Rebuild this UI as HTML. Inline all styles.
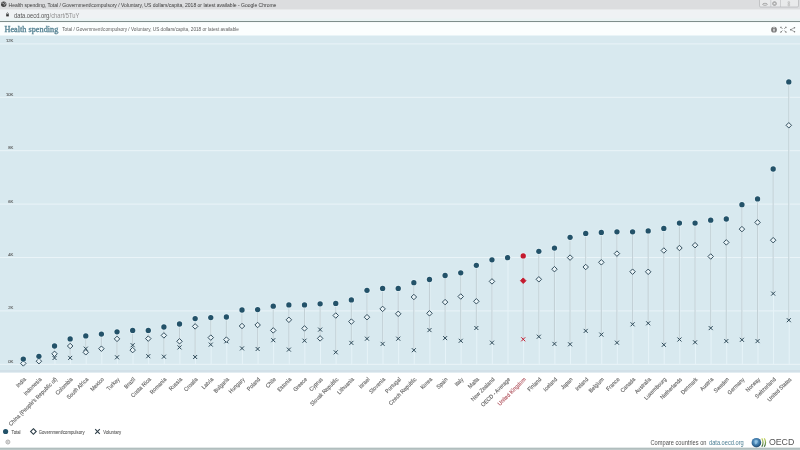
<!DOCTYPE html>
<html><head><meta charset="utf-8"><style>
html,body{margin:0;padding:0;background:#fff;width:800px;height:450px;overflow:hidden;font-family:"Liberation Sans",sans-serif;}
svg{display:block;will-change:transform}
</style></head><body>
<svg width="800" height="450" viewBox="0 0 800 450">
<rect x="0" y="0" width="800" height="9" fill="#dcdddf"/>
<rect x="0" y="9" width="800" height="0.6" fill="#c9cbcd"/>
<rect x="0" y="9.5" width="800" height="11.6" fill="#eff2f4"/><rect x="0" y="18.5" width="800" height="2.5" fill="#eaf3f3"/>
<rect x="0" y="21" width="800" height="1.2" fill="#7f8e8c"/>
<rect x="0" y="22.2" width="800" height="13.6" fill="#fbfefe"/>
<circle cx="3.7" cy="4.3" r="2.7" fill="#444"/>
<path d="M1.6 3.4 Q2.8 2.6 3.6 3.5 Q4.6 4.2 4.2 5.6 M4.8 2.2 Q5.6 3.4 5.4 4.4" fill="none" stroke="#dcdddf" stroke-width="0.7"/>
<text x="8.6" y="6.6" font-family="Liberation Sans" font-size="5.6" textLength="267.8" lengthAdjust="spacingAndGlyphs" fill="#3a3a3a">Health spending, Total / Government/compulsory / Voluntary, US dollars/capita, 2018 or latest available - Google Chrome</text>
<rect x="759.5" y="-1" width="39" height="8" rx="1.2" fill="#e9eaeb" stroke="#a0a2a4" stroke-width="0.5"/>
<line x1="770.8" y1="0" x2="770.8" y2="7" stroke="#b0b2b4" stroke-width="0.5"/>
<line x1="780.5" y1="0" x2="780.5" y2="7" stroke="#b0b2b4" stroke-width="0.5"/>
<ellipse cx="765" cy="4.3" rx="2.3" ry="1" fill="none" stroke="#777" stroke-width="0.55"/>
<circle cx="774.5" cy="3.6" r="1.9" fill="none" stroke="#777" stroke-width="0.6"/><rect x="773.9" y="2.8" width="1.2" height="1.6" fill="none" stroke="#777" stroke-width="0.4"/>
<path d="M788 1.8 h1.6 v1.6 h-1.6 z M788 4.2 h1.6 v1.6 h-1.6 z" fill="none" stroke="#999" stroke-width="0.4"/>
<rect x="6.2" y="14.2" width="2.6" height="2.2" fill="#333"/>
<path d="M6.7 14.3 V13.3 Q7.5 12.2 8.3 13.3 V14.3" fill="none" stroke="#333" stroke-width="0.6"/>
<text x="14" y="17.6" font-family="Liberation Sans" font-size="6.3" textLength="35.3" lengthAdjust="spacingAndGlyphs" fill="#555">data.oecd.org</text><text x="49.6" y="17.6" font-family="Liberation Sans" font-size="6.3" textLength="29.8" lengthAdjust="spacingAndGlyphs" fill="#8f8f8f">/chart/5TuY</text>
<text x="4.5" y="31.8" font-family="Liberation Serif" font-size="8.2" textLength="53.8" lengthAdjust="spacingAndGlyphs" fill="#5a8696" stroke="#5a8696" stroke-width="0.35">Health spending</text>
<text x="62.2" y="31.2" font-family="Liberation Sans" font-size="5.1" textLength="176.8" lengthAdjust="spacingAndGlyphs" fill="#606060">Total / Government/compulsory / Voluntary, US dollars/capita, 2018 or latest available</text>
<circle cx="774" cy="29.7" r="2.9" fill="#7d7d7d"/>
<rect x="773.45" y="28.9" width="1.1" height="2.5" fill="#fff"/>
<circle cx="774" cy="27.7" r="0.6" fill="#fff"/>
<path d="M780.6 27 L782.4 28.8 M786.2 27 L784.4 28.8 M780.6 32.4 L782.4 30.6 M786.2 32.4 L784.4 30.6" stroke="#6a6a6a" stroke-width="0.8"/>
<path d="M780.4 26.8 h1.4 l-1.4 1.4 z M786.4 26.8 h-1.4 l1.4 1.4 z M780.4 32.6 h1.4 l-1.4 -1.4 z M786.4 32.6 h-1.4 l1.4 -1.4 z" fill="#6a6a6a"/>
<path d="M794.5 27.7 L790.7 29.7 L794.5 31.7" fill="none" stroke="#777" stroke-width="0.6"/><circle cx="794.5" cy="27.7" r="0.75" fill="#777"/><circle cx="790.7" cy="29.7" r="0.75" fill="#777"/><circle cx="794.5" cy="31.7" r="0.75" fill="#777"/>
<rect x="0" y="35.5" width="800" height="336.9" fill="#d8e9ef"/>
<rect x="0" y="370" width="800" height="2.4" fill="#d2e0e8"/>
<rect x="0" y="363.80" width="800" height="1.0" fill="#eaf4f8"/>
<text x="13.4" y="362.80" text-anchor="end" font-family="Liberation Sans" font-size="4.2" fill="#505050" stroke="#505050" stroke-width="0.08">0K</text>
<rect x="0" y="310.40" width="800" height="1.0" fill="#eaf4f8"/>
<text x="13.4" y="309.40" text-anchor="end" font-family="Liberation Sans" font-size="4.2" fill="#505050" stroke="#505050" stroke-width="0.08">2K</text>
<rect x="0" y="257.00" width="800" height="1.0" fill="#eaf4f8"/>
<text x="13.4" y="256.00" text-anchor="end" font-family="Liberation Sans" font-size="4.2" fill="#505050" stroke="#505050" stroke-width="0.08">4K</text>
<rect x="0" y="203.60" width="800" height="1.0" fill="#eaf4f8"/>
<text x="13.4" y="202.60" text-anchor="end" font-family="Liberation Sans" font-size="4.2" fill="#505050" stroke="#505050" stroke-width="0.08">6K</text>
<rect x="0" y="150.20" width="800" height="1.0" fill="#eaf4f8"/>
<text x="13.4" y="149.20" text-anchor="end" font-family="Liberation Sans" font-size="4.2" fill="#505050" stroke="#505050" stroke-width="0.08">8K</text>
<rect x="0" y="96.80" width="800" height="1.0" fill="#eaf4f8"/>
<text x="13.4" y="95.80" text-anchor="end" font-family="Liberation Sans" font-size="4.2" fill="#505050" stroke="#505050" stroke-width="0.08">10K</text>
<rect x="0" y="43.40" width="800" height="1.0" fill="#eaf4f8"/>
<text x="13.4" y="42.40" text-anchor="end" font-family="Liberation Sans" font-size="4.2" fill="#505050" stroke="#505050" stroke-width="0.08">12K</text>
<line x1="23.70" y1="359.10" x2="23.70" y2="364.30" stroke="#e6f3f8" stroke-width="1"/>
<line x1="23.30" y1="359.10" x2="23.30" y2="363.40" stroke="#c0cdd3" stroke-width="0.95"/>
<line x1="39.32" y1="356.30" x2="39.32" y2="364.30" stroke="#e6f3f8" stroke-width="1"/>
<line x1="38.92" y1="356.30" x2="38.92" y2="361.20" stroke="#c0cdd3" stroke-width="0.95"/>
<line x1="54.94" y1="346.00" x2="54.94" y2="364.30" stroke="#e6f3f8" stroke-width="1"/>
<line x1="54.54" y1="346.00" x2="54.54" y2="358.00" stroke="#c0cdd3" stroke-width="0.95"/>
<line x1="70.57" y1="338.90" x2="70.57" y2="364.30" stroke="#e6f3f8" stroke-width="1"/>
<line x1="70.17" y1="338.90" x2="70.17" y2="357.90" stroke="#c0cdd3" stroke-width="0.95"/>
<line x1="86.19" y1="335.90" x2="86.19" y2="364.30" stroke="#e6f3f8" stroke-width="1"/>
<line x1="85.79" y1="335.90" x2="85.79" y2="352.30" stroke="#c0cdd3" stroke-width="0.95"/>
<line x1="101.81" y1="334.10" x2="101.81" y2="364.30" stroke="#e6f3f8" stroke-width="1"/>
<line x1="101.41" y1="334.10" x2="101.41" y2="348.70" stroke="#c0cdd3" stroke-width="0.95"/>
<line x1="117.43" y1="331.80" x2="117.43" y2="364.30" stroke="#e6f3f8" stroke-width="1"/>
<line x1="117.03" y1="331.80" x2="117.03" y2="357.30" stroke="#c0cdd3" stroke-width="0.95"/>
<line x1="133.06" y1="330.40" x2="133.06" y2="364.30" stroke="#e6f3f8" stroke-width="1"/>
<line x1="132.66" y1="330.40" x2="132.66" y2="350.10" stroke="#c0cdd3" stroke-width="0.95"/>
<line x1="148.68" y1="330.40" x2="148.68" y2="364.30" stroke="#e6f3f8" stroke-width="1"/>
<line x1="148.28" y1="330.40" x2="148.28" y2="356.20" stroke="#c0cdd3" stroke-width="0.95"/>
<line x1="164.30" y1="327.00" x2="164.30" y2="364.30" stroke="#e6f3f8" stroke-width="1"/>
<line x1="163.90" y1="327.00" x2="163.90" y2="356.70" stroke="#c0cdd3" stroke-width="0.95"/>
<line x1="179.92" y1="324.00" x2="179.92" y2="364.30" stroke="#e6f3f8" stroke-width="1"/>
<line x1="179.52" y1="324.00" x2="179.52" y2="347.40" stroke="#c0cdd3" stroke-width="0.95"/>
<line x1="195.55" y1="318.60" x2="195.55" y2="364.30" stroke="#e6f3f8" stroke-width="1"/>
<line x1="195.15" y1="318.60" x2="195.15" y2="357.00" stroke="#c0cdd3" stroke-width="0.95"/>
<line x1="211.17" y1="317.60" x2="211.17" y2="364.30" stroke="#e6f3f8" stroke-width="1"/>
<line x1="210.77" y1="317.60" x2="210.77" y2="344.60" stroke="#c0cdd3" stroke-width="0.95"/>
<line x1="226.79" y1="317.00" x2="226.79" y2="364.30" stroke="#e6f3f8" stroke-width="1"/>
<line x1="226.39" y1="317.00" x2="226.39" y2="341.30" stroke="#c0cdd3" stroke-width="0.95"/>
<line x1="242.41" y1="310.00" x2="242.41" y2="364.30" stroke="#e6f3f8" stroke-width="1"/>
<line x1="242.01" y1="310.00" x2="242.01" y2="348.40" stroke="#c0cdd3" stroke-width="0.95"/>
<line x1="258.04" y1="309.60" x2="258.04" y2="364.30" stroke="#e6f3f8" stroke-width="1"/>
<line x1="257.64" y1="309.60" x2="257.64" y2="349.00" stroke="#c0cdd3" stroke-width="0.95"/>
<line x1="273.66" y1="306.20" x2="273.66" y2="364.30" stroke="#e6f3f8" stroke-width="1"/>
<line x1="273.26" y1="306.20" x2="273.26" y2="340.20" stroke="#c0cdd3" stroke-width="0.95"/>
<line x1="289.28" y1="304.90" x2="289.28" y2="364.30" stroke="#e6f3f8" stroke-width="1"/>
<line x1="288.88" y1="304.90" x2="288.88" y2="349.60" stroke="#c0cdd3" stroke-width="0.95"/>
<line x1="304.90" y1="304.90" x2="304.90" y2="364.30" stroke="#e6f3f8" stroke-width="1"/>
<line x1="304.50" y1="304.90" x2="304.50" y2="340.70" stroke="#c0cdd3" stroke-width="0.95"/>
<line x1="320.53" y1="303.80" x2="320.53" y2="364.30" stroke="#e6f3f8" stroke-width="1"/>
<line x1="320.13" y1="303.80" x2="320.13" y2="338.40" stroke="#c0cdd3" stroke-width="0.95"/>
<line x1="336.15" y1="303.40" x2="336.15" y2="364.30" stroke="#e6f3f8" stroke-width="1"/>
<line x1="335.75" y1="303.40" x2="335.75" y2="352.30" stroke="#c0cdd3" stroke-width="0.95"/>
<line x1="351.77" y1="299.90" x2="351.77" y2="364.30" stroke="#e6f3f8" stroke-width="1"/>
<line x1="351.37" y1="299.90" x2="351.37" y2="342.90" stroke="#c0cdd3" stroke-width="0.95"/>
<line x1="367.39" y1="290.30" x2="367.39" y2="364.30" stroke="#e6f3f8" stroke-width="1"/>
<line x1="366.99" y1="290.30" x2="366.99" y2="338.70" stroke="#c0cdd3" stroke-width="0.95"/>
<line x1="383.02" y1="288.40" x2="383.02" y2="364.30" stroke="#e6f3f8" stroke-width="1"/>
<line x1="382.62" y1="288.40" x2="382.62" y2="343.90" stroke="#c0cdd3" stroke-width="0.95"/>
<line x1="398.64" y1="288.40" x2="398.64" y2="364.30" stroke="#e6f3f8" stroke-width="1"/>
<line x1="398.24" y1="288.40" x2="398.24" y2="338.70" stroke="#c0cdd3" stroke-width="0.95"/>
<line x1="414.26" y1="282.70" x2="414.26" y2="364.30" stroke="#e6f3f8" stroke-width="1"/>
<line x1="413.86" y1="282.70" x2="413.86" y2="350.20" stroke="#c0cdd3" stroke-width="0.95"/>
<line x1="429.88" y1="279.50" x2="429.88" y2="364.30" stroke="#e6f3f8" stroke-width="1"/>
<line x1="429.48" y1="279.50" x2="429.48" y2="330.10" stroke="#c0cdd3" stroke-width="0.95"/>
<line x1="445.51" y1="275.50" x2="445.51" y2="364.30" stroke="#e6f3f8" stroke-width="1"/>
<line x1="445.11" y1="275.50" x2="445.11" y2="338.10" stroke="#c0cdd3" stroke-width="0.95"/>
<line x1="461.13" y1="272.80" x2="461.13" y2="364.30" stroke="#e6f3f8" stroke-width="1"/>
<line x1="460.73" y1="272.80" x2="460.73" y2="340.80" stroke="#c0cdd3" stroke-width="0.95"/>
<line x1="476.75" y1="265.30" x2="476.75" y2="364.30" stroke="#e6f3f8" stroke-width="1"/>
<line x1="476.35" y1="265.30" x2="476.35" y2="328.00" stroke="#c0cdd3" stroke-width="0.95"/>
<line x1="492.37" y1="259.80" x2="492.37" y2="364.30" stroke="#e6f3f8" stroke-width="1"/>
<line x1="491.97" y1="259.80" x2="491.97" y2="342.70" stroke="#c0cdd3" stroke-width="0.95"/>
<line x1="508.00" y1="257.70" x2="508.00" y2="364.30" stroke="#e6f3f8" stroke-width="1"/>
<line x1="523.62" y1="255.90" x2="523.62" y2="364.30" stroke="#e6f3f8" stroke-width="1"/>
<line x1="523.22" y1="255.90" x2="523.22" y2="339.30" stroke="#c0cdd3" stroke-width="0.95"/>
<line x1="539.24" y1="251.30" x2="539.24" y2="364.30" stroke="#e6f3f8" stroke-width="1"/>
<line x1="538.84" y1="251.30" x2="538.84" y2="336.70" stroke="#c0cdd3" stroke-width="0.95"/>
<line x1="554.86" y1="248.10" x2="554.86" y2="364.30" stroke="#e6f3f8" stroke-width="1"/>
<line x1="554.46" y1="248.10" x2="554.46" y2="343.90" stroke="#c0cdd3" stroke-width="0.95"/>
<line x1="570.49" y1="237.30" x2="570.49" y2="364.30" stroke="#e6f3f8" stroke-width="1"/>
<line x1="570.09" y1="237.30" x2="570.09" y2="344.30" stroke="#c0cdd3" stroke-width="0.95"/>
<line x1="586.11" y1="233.40" x2="586.11" y2="364.30" stroke="#e6f3f8" stroke-width="1"/>
<line x1="585.71" y1="233.40" x2="585.71" y2="330.90" stroke="#c0cdd3" stroke-width="0.95"/>
<line x1="601.73" y1="232.40" x2="601.73" y2="364.30" stroke="#e6f3f8" stroke-width="1"/>
<line x1="601.33" y1="232.40" x2="601.33" y2="334.60" stroke="#c0cdd3" stroke-width="0.95"/>
<line x1="617.35" y1="231.80" x2="617.35" y2="364.30" stroke="#e6f3f8" stroke-width="1"/>
<line x1="616.95" y1="231.80" x2="616.95" y2="342.70" stroke="#c0cdd3" stroke-width="0.95"/>
<line x1="632.98" y1="231.80" x2="632.98" y2="364.30" stroke="#e6f3f8" stroke-width="1"/>
<line x1="632.58" y1="231.80" x2="632.58" y2="324.30" stroke="#c0cdd3" stroke-width="0.95"/>
<line x1="648.60" y1="230.90" x2="648.60" y2="364.30" stroke="#e6f3f8" stroke-width="1"/>
<line x1="648.20" y1="230.90" x2="648.20" y2="323.30" stroke="#c0cdd3" stroke-width="0.95"/>
<line x1="664.22" y1="228.40" x2="664.22" y2="364.30" stroke="#e6f3f8" stroke-width="1"/>
<line x1="663.82" y1="228.40" x2="663.82" y2="344.80" stroke="#c0cdd3" stroke-width="0.95"/>
<line x1="679.84" y1="223.10" x2="679.84" y2="364.30" stroke="#e6f3f8" stroke-width="1"/>
<line x1="679.44" y1="223.10" x2="679.44" y2="339.50" stroke="#c0cdd3" stroke-width="0.95"/>
<line x1="695.47" y1="223.10" x2="695.47" y2="364.30" stroke="#e6f3f8" stroke-width="1"/>
<line x1="695.07" y1="223.10" x2="695.07" y2="342.30" stroke="#c0cdd3" stroke-width="0.95"/>
<line x1="711.09" y1="220.20" x2="711.09" y2="364.30" stroke="#e6f3f8" stroke-width="1"/>
<line x1="710.69" y1="220.20" x2="710.69" y2="328.10" stroke="#c0cdd3" stroke-width="0.95"/>
<line x1="726.71" y1="219.00" x2="726.71" y2="364.30" stroke="#e6f3f8" stroke-width="1"/>
<line x1="726.31" y1="219.00" x2="726.31" y2="341.10" stroke="#c0cdd3" stroke-width="0.95"/>
<line x1="742.33" y1="204.70" x2="742.33" y2="364.30" stroke="#e6f3f8" stroke-width="1"/>
<line x1="741.93" y1="204.70" x2="741.93" y2="339.80" stroke="#c0cdd3" stroke-width="0.95"/>
<line x1="757.96" y1="198.90" x2="757.96" y2="364.30" stroke="#e6f3f8" stroke-width="1"/>
<line x1="757.56" y1="198.90" x2="757.56" y2="341.10" stroke="#c0cdd3" stroke-width="0.95"/>
<line x1="773.58" y1="169.00" x2="773.58" y2="364.30" stroke="#e6f3f8" stroke-width="1"/>
<line x1="773.18" y1="169.00" x2="773.18" y2="293.60" stroke="#c0cdd3" stroke-width="0.95"/>
<line x1="789.20" y1="81.90" x2="789.20" y2="364.30" stroke="#e6f3f8" stroke-width="1"/>
<line x1="788.80" y1="81.90" x2="788.80" y2="320.20" stroke="#c0cdd3" stroke-width="0.95"/>
<path d="M52.54 356.00 L56.54 360.00 M56.54 356.00 L52.54 360.00" stroke="#2c4857" stroke-width="1.0"/>
<path d="M68.17 355.90 L72.17 359.90 M72.17 355.90 L68.17 359.90" stroke="#2c4857" stroke-width="1.0"/>
<path d="M83.79 346.70 L87.79 350.70 M87.79 346.70 L83.79 350.70" stroke="#2c4857" stroke-width="1.0"/>
<path d="M115.03 355.30 L119.03 359.30 M119.03 355.30 L115.03 359.30" stroke="#2c4857" stroke-width="1.0"/>
<path d="M130.66 343.20 L134.66 347.20 M134.66 343.20 L130.66 347.20" stroke="#2c4857" stroke-width="1.0"/>
<path d="M146.28 354.20 L150.28 358.20 M150.28 354.20 L146.28 358.20" stroke="#2c4857" stroke-width="1.0"/>
<path d="M161.90 354.70 L165.90 358.70 M165.90 354.70 L161.90 358.70" stroke="#2c4857" stroke-width="1.0"/>
<path d="M177.52 345.40 L181.52 349.40 M181.52 345.40 L177.52 349.40" stroke="#2c4857" stroke-width="1.0"/>
<path d="M193.15 355.00 L197.15 359.00 M197.15 355.00 L193.15 359.00" stroke="#2c4857" stroke-width="1.0"/>
<path d="M208.77 342.60 L212.77 346.60 M212.77 342.60 L208.77 346.60" stroke="#2c4857" stroke-width="1.0"/>
<path d="M224.39 339.30 L228.39 343.30 M228.39 339.30 L224.39 343.30" stroke="#2c4857" stroke-width="1.0"/>
<path d="M240.01 346.40 L244.01 350.40 M244.01 346.40 L240.01 350.40" stroke="#2c4857" stroke-width="1.0"/>
<path d="M255.64 347.00 L259.64 351.00 M259.64 347.00 L255.64 351.00" stroke="#2c4857" stroke-width="1.0"/>
<path d="M271.26 338.20 L275.26 342.20 M275.26 338.20 L271.26 342.20" stroke="#2c4857" stroke-width="1.0"/>
<path d="M286.88 347.60 L290.88 351.60 M290.88 347.60 L286.88 351.60" stroke="#2c4857" stroke-width="1.0"/>
<path d="M302.50 338.70 L306.50 342.70 M306.50 338.70 L302.50 342.70" stroke="#2c4857" stroke-width="1.0"/>
<path d="M318.13 327.60 L322.13 331.60 M322.13 327.60 L318.13 331.60" stroke="#2c4857" stroke-width="1.0"/>
<path d="M333.75 350.30 L337.75 354.30 M337.75 350.30 L333.75 354.30" stroke="#2c4857" stroke-width="1.0"/>
<path d="M349.37 340.90 L353.37 344.90 M353.37 340.90 L349.37 344.90" stroke="#2c4857" stroke-width="1.0"/>
<path d="M364.99 336.70 L368.99 340.70 M368.99 336.70 L364.99 340.70" stroke="#2c4857" stroke-width="1.0"/>
<path d="M380.62 341.90 L384.62 345.90 M384.62 341.90 L380.62 345.90" stroke="#2c4857" stroke-width="1.0"/>
<path d="M396.24 336.70 L400.24 340.70 M400.24 336.70 L396.24 340.70" stroke="#2c4857" stroke-width="1.0"/>
<path d="M411.86 348.20 L415.86 352.20 M415.86 348.20 L411.86 352.20" stroke="#2c4857" stroke-width="1.0"/>
<path d="M427.48 328.10 L431.48 332.10 M431.48 328.10 L427.48 332.10" stroke="#2c4857" stroke-width="1.0"/>
<path d="M443.11 336.10 L447.11 340.10 M447.11 336.10 L443.11 340.10" stroke="#2c4857" stroke-width="1.0"/>
<path d="M458.73 338.80 L462.73 342.80 M462.73 338.80 L458.73 342.80" stroke="#2c4857" stroke-width="1.0"/>
<path d="M474.35 326.00 L478.35 330.00 M478.35 326.00 L474.35 330.00" stroke="#2c4857" stroke-width="1.0"/>
<path d="M489.97 340.70 L493.97 344.70 M493.97 340.70 L489.97 344.70" stroke="#2c4857" stroke-width="1.0"/>
<path d="M521.22 337.30 L525.22 341.30 M525.22 337.30 L521.22 341.30" stroke="#c41a2e" stroke-width="1.0"/>
<path d="M536.84 334.70 L540.84 338.70 M540.84 334.70 L536.84 338.70" stroke="#2c4857" stroke-width="1.0"/>
<path d="M552.46 341.90 L556.46 345.90 M556.46 341.90 L552.46 345.90" stroke="#2c4857" stroke-width="1.0"/>
<path d="M568.09 342.30 L572.09 346.30 M572.09 342.30 L568.09 346.30" stroke="#2c4857" stroke-width="1.0"/>
<path d="M583.71 328.90 L587.71 332.90 M587.71 328.90 L583.71 332.90" stroke="#2c4857" stroke-width="1.0"/>
<path d="M599.33 332.60 L603.33 336.60 M603.33 332.60 L599.33 336.60" stroke="#2c4857" stroke-width="1.0"/>
<path d="M614.95 340.70 L618.95 344.70 M618.95 340.70 L614.95 344.70" stroke="#2c4857" stroke-width="1.0"/>
<path d="M630.58 322.30 L634.58 326.30 M634.58 322.30 L630.58 326.30" stroke="#2c4857" stroke-width="1.0"/>
<path d="M646.20 321.30 L650.20 325.30 M650.20 321.30 L646.20 325.30" stroke="#2c4857" stroke-width="1.0"/>
<path d="M661.82 342.80 L665.82 346.80 M665.82 342.80 L661.82 346.80" stroke="#2c4857" stroke-width="1.0"/>
<path d="M677.44 337.50 L681.44 341.50 M681.44 337.50 L677.44 341.50" stroke="#2c4857" stroke-width="1.0"/>
<path d="M693.07 340.30 L697.07 344.30 M697.07 340.30 L693.07 344.30" stroke="#2c4857" stroke-width="1.0"/>
<path d="M708.69 326.10 L712.69 330.10 M712.69 326.10 L708.69 330.10" stroke="#2c4857" stroke-width="1.0"/>
<path d="M724.31 339.10 L728.31 343.10 M728.31 339.10 L724.31 343.10" stroke="#2c4857" stroke-width="1.0"/>
<path d="M739.93 337.80 L743.93 341.80 M743.93 337.80 L739.93 341.80" stroke="#2c4857" stroke-width="1.0"/>
<path d="M755.56 339.10 L759.56 343.10 M759.56 339.10 L755.56 343.10" stroke="#2c4857" stroke-width="1.0"/>
<path d="M771.18 291.60 L775.18 295.60 M775.18 291.60 L771.18 295.60" stroke="#2c4857" stroke-width="1.0"/>
<path d="M786.80 318.20 L790.80 322.20 M790.80 318.20 L786.80 322.20" stroke="#2c4857" stroke-width="1.0"/>
<path d="M23.30 360.65 L26.05 363.40 L23.30 366.15 L20.55 363.40 Z" fill="#e8f3f7" stroke="#2c4857" stroke-width="0.95"/>
<path d="M38.92 358.45 L41.67 361.20 L38.92 363.95 L36.17 361.20 Z" fill="#e8f3f7" stroke="#2c4857" stroke-width="0.95"/>
<path d="M54.54 351.05 L57.29 353.80 L54.54 356.55 L51.79 353.80 Z" fill="#e8f3f7" stroke="#2c4857" stroke-width="0.95"/>
<path d="M70.17 343.25 L72.92 346.00 L70.17 348.75 L67.42 346.00 Z" fill="#e8f3f7" stroke="#2c4857" stroke-width="0.95"/>
<path d="M85.79 349.55 L88.54 352.30 L85.79 355.05 L83.04 352.30 Z" fill="#e8f3f7" stroke="#2c4857" stroke-width="0.95"/>
<path d="M101.41 345.95 L104.16 348.70 L101.41 351.45 L98.66 348.70 Z" fill="#e8f3f7" stroke="#2c4857" stroke-width="0.95"/>
<path d="M117.03 336.15 L119.78 338.90 L117.03 341.65 L114.28 338.90 Z" fill="#e8f3f7" stroke="#2c4857" stroke-width="0.95"/>
<path d="M132.66 347.35 L135.41 350.10 L132.66 352.85 L129.91 350.10 Z" fill="#e8f3f7" stroke="#2c4857" stroke-width="0.95"/>
<path d="M148.28 335.85 L151.03 338.60 L148.28 341.35 L145.53 338.60 Z" fill="#e8f3f7" stroke="#2c4857" stroke-width="0.95"/>
<path d="M163.90 332.65 L166.65 335.40 L163.90 338.15 L161.15 335.40 Z" fill="#e8f3f7" stroke="#2c4857" stroke-width="0.95"/>
<path d="M179.52 338.55 L182.27 341.30 L179.52 344.05 L176.77 341.30 Z" fill="#e8f3f7" stroke="#2c4857" stroke-width="0.95"/>
<path d="M195.15 323.65 L197.90 326.40 L195.15 329.15 L192.40 326.40 Z" fill="#e8f3f7" stroke="#2c4857" stroke-width="0.95"/>
<path d="M210.77 334.85 L213.52 337.60 L210.77 340.35 L208.02 337.60 Z" fill="#e8f3f7" stroke="#2c4857" stroke-width="0.95"/>
<path d="M226.39 336.85 L229.14 339.60 L226.39 342.35 L223.64 339.60 Z" fill="#e8f3f7" stroke="#2c4857" stroke-width="0.95"/>
<path d="M242.01 323.25 L244.76 326.00 L242.01 328.75 L239.26 326.00 Z" fill="#e8f3f7" stroke="#2c4857" stroke-width="0.95"/>
<path d="M257.64 322.25 L260.39 325.00 L257.64 327.75 L254.89 325.00 Z" fill="#e8f3f7" stroke="#2c4857" stroke-width="0.95"/>
<path d="M273.26 327.65 L276.01 330.40 L273.26 333.15 L270.51 330.40 Z" fill="#e8f3f7" stroke="#2c4857" stroke-width="0.95"/>
<path d="M288.88 317.05 L291.63 319.80 L288.88 322.55 L286.13 319.80 Z" fill="#e8f3f7" stroke="#2c4857" stroke-width="0.95"/>
<path d="M304.50 325.65 L307.25 328.40 L304.50 331.15 L301.75 328.40 Z" fill="#e8f3f7" stroke="#2c4857" stroke-width="0.95"/>
<path d="M320.13 335.65 L322.88 338.40 L320.13 341.15 L317.38 338.40 Z" fill="#e8f3f7" stroke="#2c4857" stroke-width="0.95"/>
<path d="M335.75 312.75 L338.50 315.50 L335.75 318.25 L333.00 315.50 Z" fill="#e8f3f7" stroke="#2c4857" stroke-width="0.95"/>
<path d="M351.37 318.85 L354.12 321.60 L351.37 324.35 L348.62 321.60 Z" fill="#e8f3f7" stroke="#2c4857" stroke-width="0.95"/>
<path d="M366.99 314.45 L369.74 317.20 L366.99 319.95 L364.24 317.20 Z" fill="#e8f3f7" stroke="#2c4857" stroke-width="0.95"/>
<path d="M382.62 306.15 L385.37 308.90 L382.62 311.65 L379.87 308.90 Z" fill="#e8f3f7" stroke="#2c4857" stroke-width="0.95"/>
<path d="M398.24 311.05 L400.99 313.80 L398.24 316.55 L395.49 313.80 Z" fill="#e8f3f7" stroke="#2c4857" stroke-width="0.95"/>
<path d="M413.86 294.25 L416.61 297.00 L413.86 299.75 L411.11 297.00 Z" fill="#e8f3f7" stroke="#2c4857" stroke-width="0.95"/>
<path d="M429.48 310.55 L432.23 313.30 L429.48 316.05 L426.73 313.30 Z" fill="#e8f3f7" stroke="#2c4857" stroke-width="0.95"/>
<path d="M445.11 299.35 L447.86 302.10 L445.11 304.85 L442.36 302.10 Z" fill="#e8f3f7" stroke="#2c4857" stroke-width="0.95"/>
<path d="M460.73 293.75 L463.48 296.50 L460.73 299.25 L457.98 296.50 Z" fill="#e8f3f7" stroke="#2c4857" stroke-width="0.95"/>
<path d="M476.35 298.55 L479.10 301.30 L476.35 304.05 L473.60 301.30 Z" fill="#e8f3f7" stroke="#2c4857" stroke-width="0.95"/>
<path d="M491.97 278.65 L494.72 281.40 L491.97 284.15 L489.22 281.40 Z" fill="#e8f3f7" stroke="#2c4857" stroke-width="0.95"/>
<path d="M523.22 277.95 L525.97 280.70 L523.22 283.45 L520.47 280.70 Z" fill="#c41a2e" stroke="#c41a2e" stroke-width="0.95"/>
<path d="M538.84 276.55 L541.59 279.30 L538.84 282.05 L536.09 279.30 Z" fill="#e8f3f7" stroke="#2c4857" stroke-width="0.95"/>
<path d="M554.46 266.45 L557.21 269.20 L554.46 271.95 L551.71 269.20 Z" fill="#e8f3f7" stroke="#2c4857" stroke-width="0.95"/>
<path d="M570.09 254.85 L572.84 257.60 L570.09 260.35 L567.34 257.60 Z" fill="#e8f3f7" stroke="#2c4857" stroke-width="0.95"/>
<path d="M585.71 264.25 L588.46 267.00 L585.71 269.75 L582.96 267.00 Z" fill="#e8f3f7" stroke="#2c4857" stroke-width="0.95"/>
<path d="M601.33 259.55 L604.08 262.30 L601.33 265.05 L598.58 262.30 Z" fill="#e8f3f7" stroke="#2c4857" stroke-width="0.95"/>
<path d="M616.95 250.85 L619.70 253.60 L616.95 256.35 L614.20 253.60 Z" fill="#e8f3f7" stroke="#2c4857" stroke-width="0.95"/>
<path d="M632.58 268.95 L635.33 271.70 L632.58 274.45 L629.83 271.70 Z" fill="#e8f3f7" stroke="#2c4857" stroke-width="0.95"/>
<path d="M648.20 269.05 L650.95 271.80 L648.20 274.55 L645.45 271.80 Z" fill="#e8f3f7" stroke="#2c4857" stroke-width="0.95"/>
<path d="M663.82 247.75 L666.57 250.50 L663.82 253.25 L661.07 250.50 Z" fill="#e8f3f7" stroke="#2c4857" stroke-width="0.95"/>
<path d="M679.44 245.25 L682.19 248.00 L679.44 250.75 L676.69 248.00 Z" fill="#e8f3f7" stroke="#2c4857" stroke-width="0.95"/>
<path d="M695.07 242.45 L697.82 245.20 L695.07 247.95 L692.32 245.20 Z" fill="#e8f3f7" stroke="#2c4857" stroke-width="0.95"/>
<path d="M710.69 253.75 L713.44 256.50 L710.69 259.25 L707.94 256.50 Z" fill="#e8f3f7" stroke="#2c4857" stroke-width="0.95"/>
<path d="M726.31 239.65 L729.06 242.40 L726.31 245.15 L723.56 242.40 Z" fill="#e8f3f7" stroke="#2c4857" stroke-width="0.95"/>
<path d="M741.93 226.35 L744.68 229.10 L741.93 231.85 L739.18 229.10 Z" fill="#e8f3f7" stroke="#2c4857" stroke-width="0.95"/>
<path d="M757.56 219.65 L760.31 222.40 L757.56 225.15 L754.81 222.40 Z" fill="#e8f3f7" stroke="#2c4857" stroke-width="0.95"/>
<path d="M773.18 237.45 L775.93 240.20 L773.18 242.95 L770.43 240.20 Z" fill="#e8f3f7" stroke="#2c4857" stroke-width="0.95"/>
<path d="M788.80 122.55 L791.55 125.30 L788.80 128.05 L786.05 125.30 Z" fill="#e8f3f7" stroke="#2c4857" stroke-width="0.95"/>
<circle cx="23.30" cy="359.10" r="3.4" fill="#e6f3f8" opacity="0.75"/>
<circle cx="23.30" cy="359.10" r="2.65" fill="#235269"/>
<circle cx="38.92" cy="356.30" r="3.4" fill="#e6f3f8" opacity="0.75"/>
<circle cx="38.92" cy="356.30" r="2.65" fill="#235269"/>
<circle cx="54.54" cy="346.00" r="3.4" fill="#e6f3f8" opacity="0.75"/>
<circle cx="54.54" cy="346.00" r="2.65" fill="#235269"/>
<circle cx="70.17" cy="338.90" r="3.4" fill="#e6f3f8" opacity="0.75"/>
<circle cx="70.17" cy="338.90" r="2.65" fill="#235269"/>
<circle cx="85.79" cy="335.90" r="3.4" fill="#e6f3f8" opacity="0.75"/>
<circle cx="85.79" cy="335.90" r="2.65" fill="#235269"/>
<circle cx="101.41" cy="334.10" r="3.4" fill="#e6f3f8" opacity="0.75"/>
<circle cx="101.41" cy="334.10" r="2.65" fill="#235269"/>
<circle cx="117.03" cy="331.80" r="3.4" fill="#e6f3f8" opacity="0.75"/>
<circle cx="117.03" cy="331.80" r="2.65" fill="#235269"/>
<circle cx="132.66" cy="330.40" r="3.4" fill="#e6f3f8" opacity="0.75"/>
<circle cx="132.66" cy="330.40" r="2.65" fill="#235269"/>
<circle cx="148.28" cy="330.40" r="3.4" fill="#e6f3f8" opacity="0.75"/>
<circle cx="148.28" cy="330.40" r="2.65" fill="#235269"/>
<circle cx="163.90" cy="327.00" r="3.4" fill="#e6f3f8" opacity="0.75"/>
<circle cx="163.90" cy="327.00" r="2.65" fill="#235269"/>
<circle cx="179.52" cy="324.00" r="3.4" fill="#e6f3f8" opacity="0.75"/>
<circle cx="179.52" cy="324.00" r="2.65" fill="#235269"/>
<circle cx="195.15" cy="318.60" r="3.4" fill="#e6f3f8" opacity="0.75"/>
<circle cx="195.15" cy="318.60" r="2.65" fill="#235269"/>
<circle cx="210.77" cy="317.60" r="3.4" fill="#e6f3f8" opacity="0.75"/>
<circle cx="210.77" cy="317.60" r="2.65" fill="#235269"/>
<circle cx="226.39" cy="317.00" r="3.4" fill="#e6f3f8" opacity="0.75"/>
<circle cx="226.39" cy="317.00" r="2.65" fill="#235269"/>
<circle cx="242.01" cy="310.00" r="3.4" fill="#e6f3f8" opacity="0.75"/>
<circle cx="242.01" cy="310.00" r="2.65" fill="#235269"/>
<circle cx="257.64" cy="309.60" r="3.4" fill="#e6f3f8" opacity="0.75"/>
<circle cx="257.64" cy="309.60" r="2.65" fill="#235269"/>
<circle cx="273.26" cy="306.20" r="3.4" fill="#e6f3f8" opacity="0.75"/>
<circle cx="273.26" cy="306.20" r="2.65" fill="#235269"/>
<circle cx="288.88" cy="304.90" r="3.4" fill="#e6f3f8" opacity="0.75"/>
<circle cx="288.88" cy="304.90" r="2.65" fill="#235269"/>
<circle cx="304.50" cy="304.90" r="3.4" fill="#e6f3f8" opacity="0.75"/>
<circle cx="304.50" cy="304.90" r="2.65" fill="#235269"/>
<circle cx="320.13" cy="303.80" r="3.4" fill="#e6f3f8" opacity="0.75"/>
<circle cx="320.13" cy="303.80" r="2.65" fill="#235269"/>
<circle cx="335.75" cy="303.40" r="3.4" fill="#e6f3f8" opacity="0.75"/>
<circle cx="335.75" cy="303.40" r="2.65" fill="#235269"/>
<circle cx="351.37" cy="299.90" r="3.4" fill="#e6f3f8" opacity="0.75"/>
<circle cx="351.37" cy="299.90" r="2.65" fill="#235269"/>
<circle cx="366.99" cy="290.30" r="3.4" fill="#e6f3f8" opacity="0.75"/>
<circle cx="366.99" cy="290.30" r="2.65" fill="#235269"/>
<circle cx="382.62" cy="288.40" r="3.4" fill="#e6f3f8" opacity="0.75"/>
<circle cx="382.62" cy="288.40" r="2.65" fill="#235269"/>
<circle cx="398.24" cy="288.40" r="3.4" fill="#e6f3f8" opacity="0.75"/>
<circle cx="398.24" cy="288.40" r="2.65" fill="#235269"/>
<circle cx="413.86" cy="282.70" r="3.4" fill="#e6f3f8" opacity="0.75"/>
<circle cx="413.86" cy="282.70" r="2.65" fill="#235269"/>
<circle cx="429.48" cy="279.50" r="3.4" fill="#e6f3f8" opacity="0.75"/>
<circle cx="429.48" cy="279.50" r="2.65" fill="#235269"/>
<circle cx="445.11" cy="275.50" r="3.4" fill="#e6f3f8" opacity="0.75"/>
<circle cx="445.11" cy="275.50" r="2.65" fill="#235269"/>
<circle cx="460.73" cy="272.80" r="3.4" fill="#e6f3f8" opacity="0.75"/>
<circle cx="460.73" cy="272.80" r="2.65" fill="#235269"/>
<circle cx="476.35" cy="265.30" r="3.4" fill="#e6f3f8" opacity="0.75"/>
<circle cx="476.35" cy="265.30" r="2.65" fill="#235269"/>
<circle cx="491.97" cy="259.80" r="3.4" fill="#e6f3f8" opacity="0.75"/>
<circle cx="491.97" cy="259.80" r="2.65" fill="#235269"/>
<circle cx="507.60" cy="257.70" r="3.4" fill="#e6f3f8" opacity="0.75"/>
<circle cx="507.60" cy="257.70" r="2.65" fill="#235269"/>
<circle cx="523.22" cy="255.90" r="3.4" fill="#e6f3f8" opacity="0.75"/>
<circle cx="523.22" cy="255.90" r="2.65" fill="#c41a2e"/>
<circle cx="538.84" cy="251.30" r="3.4" fill="#e6f3f8" opacity="0.75"/>
<circle cx="538.84" cy="251.30" r="2.65" fill="#235269"/>
<circle cx="554.46" cy="248.10" r="3.4" fill="#e6f3f8" opacity="0.75"/>
<circle cx="554.46" cy="248.10" r="2.65" fill="#235269"/>
<circle cx="570.09" cy="237.30" r="3.4" fill="#e6f3f8" opacity="0.75"/>
<circle cx="570.09" cy="237.30" r="2.65" fill="#235269"/>
<circle cx="585.71" cy="233.40" r="3.4" fill="#e6f3f8" opacity="0.75"/>
<circle cx="585.71" cy="233.40" r="2.65" fill="#235269"/>
<circle cx="601.33" cy="232.40" r="3.4" fill="#e6f3f8" opacity="0.75"/>
<circle cx="601.33" cy="232.40" r="2.65" fill="#235269"/>
<circle cx="616.95" cy="231.80" r="3.4" fill="#e6f3f8" opacity="0.75"/>
<circle cx="616.95" cy="231.80" r="2.65" fill="#235269"/>
<circle cx="632.58" cy="231.80" r="3.4" fill="#e6f3f8" opacity="0.75"/>
<circle cx="632.58" cy="231.80" r="2.65" fill="#235269"/>
<circle cx="648.20" cy="230.90" r="3.4" fill="#e6f3f8" opacity="0.75"/>
<circle cx="648.20" cy="230.90" r="2.65" fill="#235269"/>
<circle cx="663.82" cy="228.40" r="3.4" fill="#e6f3f8" opacity="0.75"/>
<circle cx="663.82" cy="228.40" r="2.65" fill="#235269"/>
<circle cx="679.44" cy="223.10" r="3.4" fill="#e6f3f8" opacity="0.75"/>
<circle cx="679.44" cy="223.10" r="2.65" fill="#235269"/>
<circle cx="695.07" cy="223.10" r="3.4" fill="#e6f3f8" opacity="0.75"/>
<circle cx="695.07" cy="223.10" r="2.65" fill="#235269"/>
<circle cx="710.69" cy="220.20" r="3.4" fill="#e6f3f8" opacity="0.75"/>
<circle cx="710.69" cy="220.20" r="2.65" fill="#235269"/>
<circle cx="726.31" cy="219.00" r="3.4" fill="#e6f3f8" opacity="0.75"/>
<circle cx="726.31" cy="219.00" r="2.65" fill="#235269"/>
<circle cx="741.93" cy="204.70" r="3.4" fill="#e6f3f8" opacity="0.75"/>
<circle cx="741.93" cy="204.70" r="2.65" fill="#235269"/>
<circle cx="757.56" cy="198.90" r="3.4" fill="#e6f3f8" opacity="0.75"/>
<circle cx="757.56" cy="198.90" r="2.65" fill="#235269"/>
<circle cx="773.18" cy="169.00" r="3.4" fill="#e6f3f8" opacity="0.75"/>
<circle cx="773.18" cy="169.00" r="2.65" fill="#235269"/>
<circle cx="788.80" cy="81.90" r="3.4" fill="#e6f3f8" opacity="0.75"/>
<circle cx="788.80" cy="81.90" r="2.65" fill="#235269"/>
<text transform="translate(26.30,379.8) rotate(-45)" text-anchor="end" font-family="Liberation Sans" font-size="5.8" textLength="11.28" lengthAdjust="spacingAndGlyphs" fill="#666666" stroke="#666666" stroke-width="0.15">India</text>
<text transform="translate(41.92,379.8) rotate(-45)" text-anchor="end" font-family="Liberation Sans" font-size="5.8" textLength="22.55" lengthAdjust="spacingAndGlyphs" fill="#666666" stroke="#666666" stroke-width="0.15">Indonesia</text>
<text transform="translate(57.54,379.8) rotate(-45)" text-anchor="end" font-family="Liberation Sans" font-size="5.8" textLength="65.74" lengthAdjust="spacingAndGlyphs" fill="#666666" stroke="#666666" stroke-width="0.15">China (People&#8217;s Republic of)</text>
<text transform="translate(73.17,379.8) rotate(-45)" text-anchor="end" font-family="Liberation Sans" font-size="5.8" textLength="21.96" lengthAdjust="spacingAndGlyphs" fill="#666666" stroke="#666666" stroke-width="0.15">Colombia</text>
<text transform="translate(88.79,379.8) rotate(-45)" text-anchor="end" font-family="Liberation Sans" font-size="5.8" textLength="28.04" lengthAdjust="spacingAndGlyphs" fill="#666666" stroke="#666666" stroke-width="0.15">South Africa</text>
<text transform="translate(104.41,379.8) rotate(-45)" text-anchor="end" font-family="Liberation Sans" font-size="5.8" textLength="16.47" lengthAdjust="spacingAndGlyphs" fill="#666666" stroke="#666666" stroke-width="0.15">Mexico</text>
<text transform="translate(120.03,379.8) rotate(-45)" text-anchor="end" font-family="Liberation Sans" font-size="5.8" textLength="15.70" lengthAdjust="spacingAndGlyphs" fill="#666666" stroke="#666666" stroke-width="0.15">Turkey</text>
<text transform="translate(135.66,379.8) rotate(-45)" text-anchor="end" font-family="Liberation Sans" font-size="5.8" textLength="13.00" lengthAdjust="spacingAndGlyphs" fill="#666666" stroke="#666666" stroke-width="0.15">Brazil</text>
<text transform="translate(151.28,379.8) rotate(-45)" text-anchor="end" font-family="Liberation Sans" font-size="5.8" textLength="25.43" lengthAdjust="spacingAndGlyphs" fill="#666666" stroke="#666666" stroke-width="0.15">Costa Rica</text>
<text transform="translate(166.90,379.8) rotate(-45)" text-anchor="end" font-family="Liberation Sans" font-size="5.8" textLength="20.81" lengthAdjust="spacingAndGlyphs" fill="#666666" stroke="#666666" stroke-width="0.15">Romania</text>
<text transform="translate(182.52,379.8) rotate(-45)" text-anchor="end" font-family="Liberation Sans" font-size="5.8" textLength="15.89" lengthAdjust="spacingAndGlyphs" fill="#666666" stroke="#666666" stroke-width="0.15">Russia</text>
<text transform="translate(198.15,379.8) rotate(-45)" text-anchor="end" font-family="Liberation Sans" font-size="5.8" textLength="16.76" lengthAdjust="spacingAndGlyphs" fill="#666666" stroke="#666666" stroke-width="0.15">Croatia</text>
<text transform="translate(213.77,379.8) rotate(-45)" text-anchor="end" font-family="Liberation Sans" font-size="5.8" textLength="13.88" lengthAdjust="spacingAndGlyphs" fill="#666666" stroke="#666666" stroke-width="0.15">Latvia</text>
<text transform="translate(229.39,379.8) rotate(-45)" text-anchor="end" font-family="Liberation Sans" font-size="5.8" textLength="19.08" lengthAdjust="spacingAndGlyphs" fill="#666666" stroke="#666666" stroke-width="0.15">Bulgaria</text>
<text transform="translate(245.01,379.8) rotate(-45)" text-anchor="end" font-family="Liberation Sans" font-size="5.8" textLength="19.65" lengthAdjust="spacingAndGlyphs" fill="#666666" stroke="#666666" stroke-width="0.15">Hungary</text>
<text transform="translate(260.64,379.8) rotate(-45)" text-anchor="end" font-family="Liberation Sans" font-size="5.8" textLength="16.19" lengthAdjust="spacingAndGlyphs" fill="#666666" stroke="#666666" stroke-width="0.15">Poland</text>
<text transform="translate(276.26,379.8) rotate(-45)" text-anchor="end" font-family="Liberation Sans" font-size="5.8" textLength="11.85" lengthAdjust="spacingAndGlyphs" fill="#666666" stroke="#666666" stroke-width="0.15">Chile</text>
<text transform="translate(291.88,379.8) rotate(-45)" text-anchor="end" font-family="Liberation Sans" font-size="5.8" textLength="17.34" lengthAdjust="spacingAndGlyphs" fill="#666666" stroke="#666666" stroke-width="0.15">Estonia</text>
<text transform="translate(307.50,379.8) rotate(-45)" text-anchor="end" font-family="Liberation Sans" font-size="5.8" textLength="17.05" lengthAdjust="spacingAndGlyphs" fill="#666666" stroke="#666666" stroke-width="0.15">Greece</text>
<text transform="translate(323.13,379.8) rotate(-45)" text-anchor="end" font-family="Liberation Sans" font-size="5.8" textLength="16.47" lengthAdjust="spacingAndGlyphs" fill="#666666" stroke="#666666" stroke-width="0.15">Cyprus</text>
<text transform="translate(338.75,379.8) rotate(-45)" text-anchor="end" font-family="Liberation Sans" font-size="5.8" textLength="37.28" lengthAdjust="spacingAndGlyphs" fill="#666666" stroke="#666666" stroke-width="0.15">Slovak Republic</text>
<text transform="translate(354.37,379.8) rotate(-45)" text-anchor="end" font-family="Liberation Sans" font-size="5.8" textLength="21.11" lengthAdjust="spacingAndGlyphs" fill="#666666" stroke="#666666" stroke-width="0.15">Lithuania</text>
<text transform="translate(369.99,379.8) rotate(-45)" text-anchor="end" font-family="Liberation Sans" font-size="5.8" textLength="12.71" lengthAdjust="spacingAndGlyphs" fill="#666666" stroke="#666666" stroke-width="0.15">Israel</text>
<text transform="translate(385.62,379.8) rotate(-45)" text-anchor="end" font-family="Liberation Sans" font-size="5.8" textLength="19.95" lengthAdjust="spacingAndGlyphs" fill="#666666" stroke="#666666" stroke-width="0.15">Slovenia</text>
<text transform="translate(401.24,379.8) rotate(-45)" text-anchor="end" font-family="Liberation Sans" font-size="5.8" textLength="19.37" lengthAdjust="spacingAndGlyphs" fill="#666666" stroke="#666666" stroke-width="0.15">Portugal</text>
<text transform="translate(416.86,379.8) rotate(-45)" text-anchor="end" font-family="Liberation Sans" font-size="5.8" textLength="36.42" lengthAdjust="spacingAndGlyphs" fill="#666666" stroke="#666666" stroke-width="0.15">Czech Republic</text>
<text transform="translate(432.48,379.8) rotate(-45)" text-anchor="end" font-family="Liberation Sans" font-size="5.8" textLength="13.88" lengthAdjust="spacingAndGlyphs" fill="#666666" stroke="#666666" stroke-width="0.15">Korea</text>
<text transform="translate(448.11,379.8) rotate(-45)" text-anchor="end" font-family="Liberation Sans" font-size="5.8" textLength="13.30" lengthAdjust="spacingAndGlyphs" fill="#666666" stroke="#666666" stroke-width="0.15">Spain</text>
<text transform="translate(463.73,379.8) rotate(-45)" text-anchor="end" font-family="Liberation Sans" font-size="5.8" textLength="9.54" lengthAdjust="spacingAndGlyphs" fill="#666666" stroke="#666666" stroke-width="0.15">Italy</text>
<text transform="translate(479.35,379.8) rotate(-45)" text-anchor="end" font-family="Liberation Sans" font-size="5.8" textLength="12.71" lengthAdjust="spacingAndGlyphs" fill="#666666" stroke="#666666" stroke-width="0.15">Malta</text>
<text transform="translate(494.97,379.8) rotate(-45)" text-anchor="end" font-family="Liberation Sans" font-size="5.8" textLength="30.64" lengthAdjust="spacingAndGlyphs" fill="#666666" stroke="#666666" stroke-width="0.15">New Zealand</text>
<text transform="translate(510.60,379.8) rotate(-45)" text-anchor="end" font-family="Liberation Sans" font-size="5.8" textLength="38.63" lengthAdjust="spacingAndGlyphs" fill="#666666" stroke="#666666" stroke-width="0.15">OECD - Average</text>
<text transform="translate(526.22,379.8) rotate(-45)" text-anchor="end" font-family="Liberation Sans" font-size="5.8" textLength="37.00" lengthAdjust="spacingAndGlyphs" fill="#b35a64" stroke="#b35a64" stroke-width="0.15">United Kingdom</text>
<text transform="translate(541.84,379.8) rotate(-45)" text-anchor="end" font-family="Liberation Sans" font-size="5.8" textLength="17.05" lengthAdjust="spacingAndGlyphs" fill="#666666" stroke="#666666" stroke-width="0.15">Finland</text>
<text transform="translate(557.46,379.8) rotate(-45)" text-anchor="end" font-family="Liberation Sans" font-size="5.8" textLength="16.77" lengthAdjust="spacingAndGlyphs" fill="#666666" stroke="#666666" stroke-width="0.15">Iceland</text>
<text transform="translate(573.09,379.8) rotate(-45)" text-anchor="end" font-family="Liberation Sans" font-size="5.8" textLength="14.17" lengthAdjust="spacingAndGlyphs" fill="#666666" stroke="#666666" stroke-width="0.15">Japan</text>
<text transform="translate(588.71,379.8) rotate(-45)" text-anchor="end" font-family="Liberation Sans" font-size="5.8" textLength="15.90" lengthAdjust="spacingAndGlyphs" fill="#666666" stroke="#666666" stroke-width="0.15">Ireland</text>
<text transform="translate(604.33,379.8) rotate(-45)" text-anchor="end" font-family="Liberation Sans" font-size="5.8" textLength="18.79" lengthAdjust="spacingAndGlyphs" fill="#666666" stroke="#666666" stroke-width="0.15">Belgium</text>
<text transform="translate(619.95,379.8) rotate(-45)" text-anchor="end" font-family="Liberation Sans" font-size="5.8" textLength="16.18" lengthAdjust="spacingAndGlyphs" fill="#666666" stroke="#666666" stroke-width="0.15">France</text>
<text transform="translate(635.58,379.8) rotate(-45)" text-anchor="end" font-family="Liberation Sans" font-size="5.8" textLength="18.21" lengthAdjust="spacingAndGlyphs" fill="#666666" stroke="#666666" stroke-width="0.15">Canada</text>
<text transform="translate(651.20,379.8) rotate(-45)" text-anchor="end" font-family="Liberation Sans" font-size="5.8" textLength="20.23" lengthAdjust="spacingAndGlyphs" fill="#666666" stroke="#666666" stroke-width="0.15">Australia</text>
<text transform="translate(666.82,379.8) rotate(-45)" text-anchor="end" font-family="Liberation Sans" font-size="5.8" textLength="28.90" lengthAdjust="spacingAndGlyphs" fill="#666666" stroke="#666666" stroke-width="0.15">Luxembourg</text>
<text transform="translate(682.44,379.8) rotate(-45)" text-anchor="end" font-family="Liberation Sans" font-size="5.8" textLength="28.04" lengthAdjust="spacingAndGlyphs" fill="#666666" stroke="#666666" stroke-width="0.15">Netherlands</text>
<text transform="translate(698.07,379.8) rotate(-45)" text-anchor="end" font-family="Liberation Sans" font-size="5.8" textLength="21.09" lengthAdjust="spacingAndGlyphs" fill="#666666" stroke="#666666" stroke-width="0.15">Denmark</text>
<text transform="translate(713.69,379.8) rotate(-45)" text-anchor="end" font-family="Liberation Sans" font-size="5.8" textLength="16.18" lengthAdjust="spacingAndGlyphs" fill="#666666" stroke="#666666" stroke-width="0.15">Austria</text>
<text transform="translate(729.31,379.8) rotate(-45)" text-anchor="end" font-family="Liberation Sans" font-size="5.8" textLength="18.79" lengthAdjust="spacingAndGlyphs" fill="#666666" stroke="#666666" stroke-width="0.15">Sweden</text>
<text transform="translate(744.93,379.8) rotate(-45)" text-anchor="end" font-family="Liberation Sans" font-size="5.8" textLength="21.38" lengthAdjust="spacingAndGlyphs" fill="#666666" stroke="#666666" stroke-width="0.15">Germany</text>
<text transform="translate(760.56,379.8) rotate(-45)" text-anchor="end" font-family="Liberation Sans" font-size="5.8" textLength="17.63" lengthAdjust="spacingAndGlyphs" fill="#666666" stroke="#666666" stroke-width="0.15">Norway</text>
<text transform="translate(776.18,379.8) rotate(-45)" text-anchor="end" font-family="Liberation Sans" font-size="5.8" textLength="26.88" lengthAdjust="spacingAndGlyphs" fill="#666666" stroke="#666666" stroke-width="0.15">Switzerland</text>
<text transform="translate(791.80,379.8) rotate(-45)" text-anchor="end" font-family="Liberation Sans" font-size="5.8" textLength="31.22" lengthAdjust="spacingAndGlyphs" fill="#666666" stroke="#666666" stroke-width="0.15">United States</text>
<circle cx="5.6" cy="431.5" r="2.6" fill="#235269"/>
<text x="11.5" y="434" font-family="Liberation Sans" font-size="5.2" fill="#606060" stroke="#606060" stroke-width="0.1" textLength="9" lengthAdjust="spacingAndGlyphs">Total</text>
<path d="M33.4 428.7 L36.2 431.5 L33.4 434.3 L30.6 431.5 Z" fill="#fff" stroke="#2e3e48" stroke-width="1.1"/>
<text x="38.7" y="434" font-family="Liberation Sans" font-size="5.2" fill="#606060" stroke="#606060" stroke-width="0.1" textLength="45.8" lengthAdjust="spacingAndGlyphs">Government/compulsory</text>
<path d="M95.2 429.2 L99.8 433.8 M99.8 429.2 L95.2 433.8" stroke="#2e3e48" stroke-width="1.1"/>
<text x="103.3" y="434" font-family="Liberation Sans" font-size="5.2" fill="#606060" stroke="#606060" stroke-width="0.1" textLength="17.8" lengthAdjust="spacingAndGlyphs">Voluntary</text>
<circle cx="7.9" cy="442" r="2" fill="none" stroke="#9a9a9a" stroke-width="0.8"/><path d="M8.9 441.3 Q8 440.6 7.3 441.3 Q6.8 442 7.3 442.7 Q8 443.4 8.9 442.7" fill="none" stroke="#9a9a9a" stroke-width="0.65"/>
<text x="650.5" y="444.8" font-family="Liberation Sans" font-size="6.3" fill="#505050" textLength="56" lengthAdjust="spacingAndGlyphs">Compare countries on</text>
<text x="709" y="444.8" font-family="Liberation Sans" font-size="6.3" fill="#4a7d92" textLength="34.7" lengthAdjust="spacingAndGlyphs">data.oecd.org</text>
<defs><radialGradient id="gl" cx="0.45" cy="0.4" r="0.6"><stop offset="0" stop-color="#7ab4dc"/><stop offset="0.6" stop-color="#3d78a8"/><stop offset="1" stop-color="#1b4468"/></radialGradient><linearGradient id="ar" x1="0" y1="0" x2="0" y2="1"><stop offset="0" stop-color="#c8d860"/><stop offset="1" stop-color="#3a6a40"/></linearGradient></defs>
<circle cx="756.4" cy="442.7" r="4.8" fill="url(#gl)"/>
<path d="M754.5 440.5 Q756.5 439.5 758 441 L757 443.5 L755 444.5 Z" fill="#a8d4ee" opacity="0.6"/>
<path d="M761.8 438.3 Q764.3 442.5 761.8 446.7 M764.3 438.3 Q766.8 442.5 764.3 446.7" fill="none" stroke="url(#ar)" stroke-width="1.2"/>
<text x="768.9" y="445.4" font-family="Liberation Sans" font-size="8.5" fill="#555" textLength="25.4" lengthAdjust="spacingAndGlyphs">OECD</text>
<rect x="0" y="447.8" width="800" height="2.2" fill="#bcc8c8"/><rect x="0" y="447.8" width="800" height="0.7" fill="#a6b4b4"/>
</svg>
</body></html>
